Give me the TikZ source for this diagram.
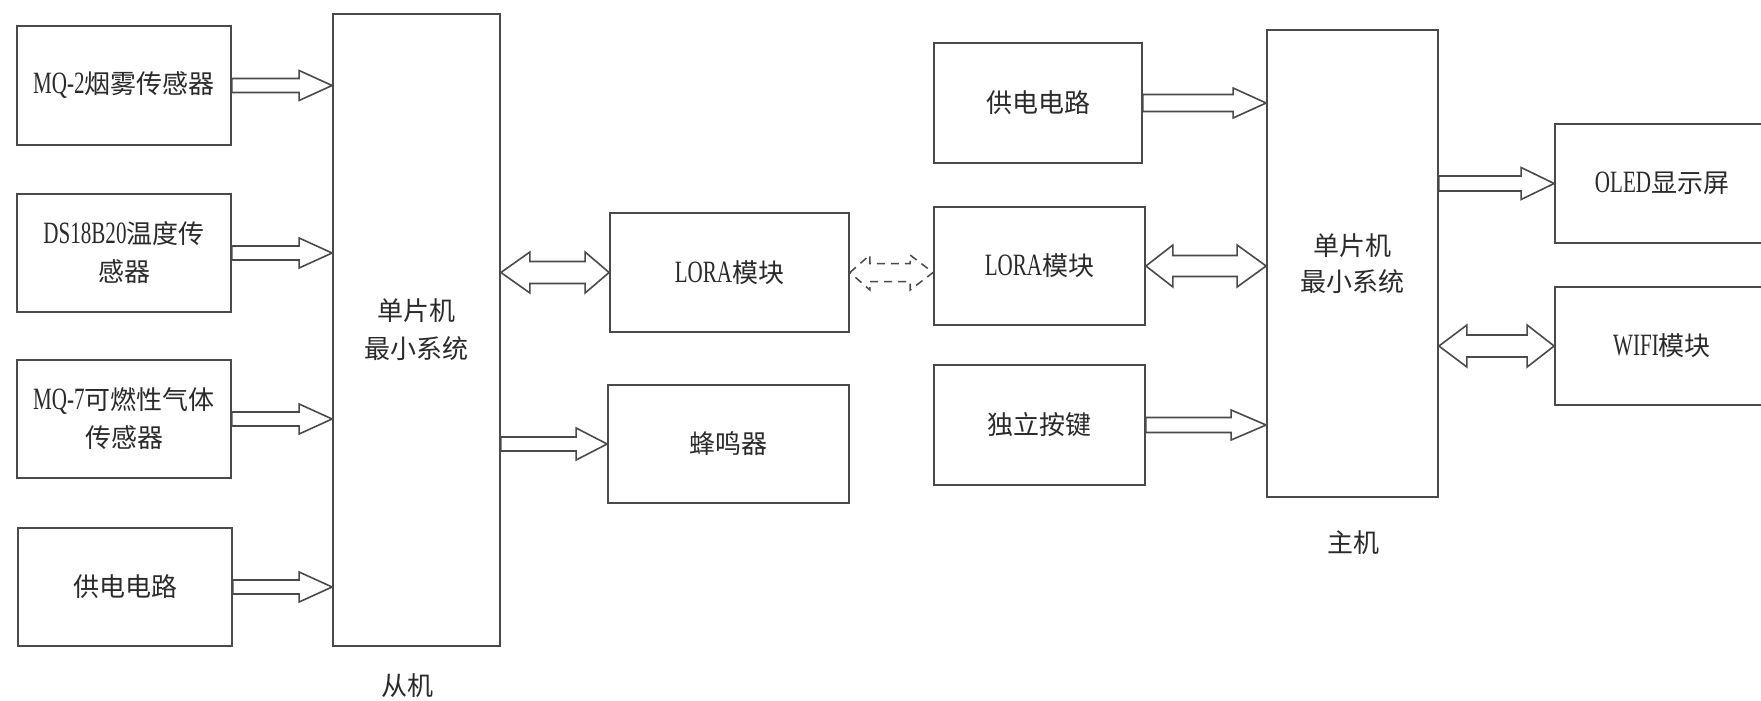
\documentclass[tikz,border=0pt]{standalone}
\usepackage{fontspec}
\setmainfont{Liberation Serif}[FakeStretch=0.68]
\newfontfamily\zhf{Noto Sans CJK SC}
\newcommand\zh[1]{{\zhf #1}}
\newcommand\la[1]{{\fontsize{31}{38}\selectfont #1}}
\usetikzlibrary{calc}
\definecolor{lineC}{HTML}{4A4A4A}
\definecolor{textC}{HTML}{2A2A2A}
\tikzset{
  box/.style={draw=lineC, line width=1.8pt, fill=white, inner sep=0pt, align=center,
    text=textC, font=\fontsize{26}{38}\selectfont},
  lbl/.style={inner sep=0pt, text=textC, font=\fontsize{26}{38}\selectfont},
  arrowline/.style={draw=lineC, line width=1.6pt, fill=white, line join=miter},
}
\newcommand\barrow[6][]{%
  \draw[arrowline,#1] let \p1=(#2), \p2=(#3) in
    (\x1,\y1+#4) -- (\x2-#6,\y1+#4) -- (\x2-#6,\y1+#5) -- (\x2,\y1) --
    (\x2-#6,\y1-#5) -- (\x2-#6,\y1-#4) -- (\x1,\y1-#4) -- cycle;}
\newcommand\bbarrow[7][]{%
  \draw[arrowline,#1] let \p1=(#2), \p2=(#3) in
    (\x1,\y1) -- (\x1+#6,\y1+#5) -- (\x1+#6,\y1+#4) -- (\x2-#7,\y1+#4) --
    (\x2-#7,\y1+#5) -- (\x2,\y1) -- (\x2-#7,\y1-#5) -- (\x2-#7,\y1-#4) --
    (\x1+#6,\y1-#4) -- (\x1+#6,\y1-#5) -- cycle;}
\begin{document}
\begin{tikzpicture}[x=1pt,y=-1pt]
\useasboundingbox (0,0) rectangle (1761,701);
\fill[white] (0,0) rectangle (1761,701);
\clip (0,0) rectangle (1761,701);
% slave side
\node[box, minimum width=214pt, minimum height=119pt] (mq2) at (124,85.5) {\la{MQ-2}\zh{烟雾传感器}};
\node[box, minimum width=214pt, minimum height=118pt] (ds) at (124,253) {\la{DS18B20}\zh{温度传}\\\zh{感器}};
\node[box, minimum width=214pt, minimum height=118pt] (mq7) at (124,419) {\la{MQ-7}\zh{可燃性气体}\\\zh{传感器}};
\node[box, minimum width=214pt, minimum height=118pt] (spw) at (125,587) {\zh{供电电路}};
\node[box, minimum width=167pt, minimum height=632pt] (smcu) at (416.5,330) {\zh{单片机}\\\zh{最小系统}};
\node[box, minimum width=239pt, minimum height=119pt] (slora) at (729.5,272.5) {\la{LORA}\zh{模块}};
\node[box, minimum width=241pt, minimum height=118pt] (buzz) at (728.5,444) {\zh{蜂鸣器}};
\node[lbl] (slabel) at (407,686) {\zh{从机}};
% master side
\node[box, minimum width=208pt, minimum height=120pt] (mpw) at (1038,103) {\zh{供电电路}};
\node[box, minimum width=211pt, minimum height=118pt] (mlora) at (1039.5,266) {\la{LORA}\zh{模块}};
\node[box, minimum width=211pt, minimum height=120pt] (key) at (1039.5,425) {\zh{独立按键}};
\node[box, minimum width=171pt, minimum height=467pt, font=\fontsize{26}{36}\selectfont] (mmcu) at (1352.5,263.5) {\zh{单片机}\\\zh{最小系统}};
\node[box, minimum width=214pt, minimum height=119pt] (oled) at (1662,183.5) {\la{OLED}\zh{显示屏}};
\node[box, minimum width=214pt, minimum height=118pt] (wifi) at (1662,346) {\la{WIFI}\zh{模块}};
\node[lbl] (mlabel) at (1353,543) {\zh{主机}};
% arrows slave
\barrow{mq2.east}{smcu.west |- mq2.east}{7pt}{15pt}{33pt}
\barrow{ds.east}{smcu.west |- ds.east}{7pt}{15pt}{33pt}
\barrow{mq7.east}{smcu.west |- mq7.east}{7pt}{15pt}{33pt}
\barrow{spw.east}{smcu.west |- spw.east}{7pt}{15pt}{33pt}
\bbarrow{smcu.east |- slora.west}{slora.west}{11pt}{20.5pt}{29pt}{24pt}
\barrow{smcu.east |- buzz.west}{buzz.west}{7pt}{16pt}{31pt}
% wireless link
\bbarrow[dash pattern=on 8pt off 6pt, line width=1.5pt]{slora.east}{mlora.west}{9pt}{17.5pt}{20pt}{23pt}
% arrows master
\barrow{mpw.east}{mmcu.west |- mpw.east}{8.5pt}{15pt}{33pt}
\bbarrow{mlora.east}{mmcu.west |- mlora.east}{10.5pt}{21pt}{27pt}{29pt}
\barrow{key.east}{mmcu.west |- key.east}{7.5pt}{15pt}{35pt}
\barrow{mmcu.east |- oled.west}{oled.west}{7.5pt}{16pt}{33pt}
\bbarrow{mmcu.east |- wifi.west}{wifi.west}{11pt}{21pt}{28pt}{27pt}
\end{tikzpicture}
\end{document}
